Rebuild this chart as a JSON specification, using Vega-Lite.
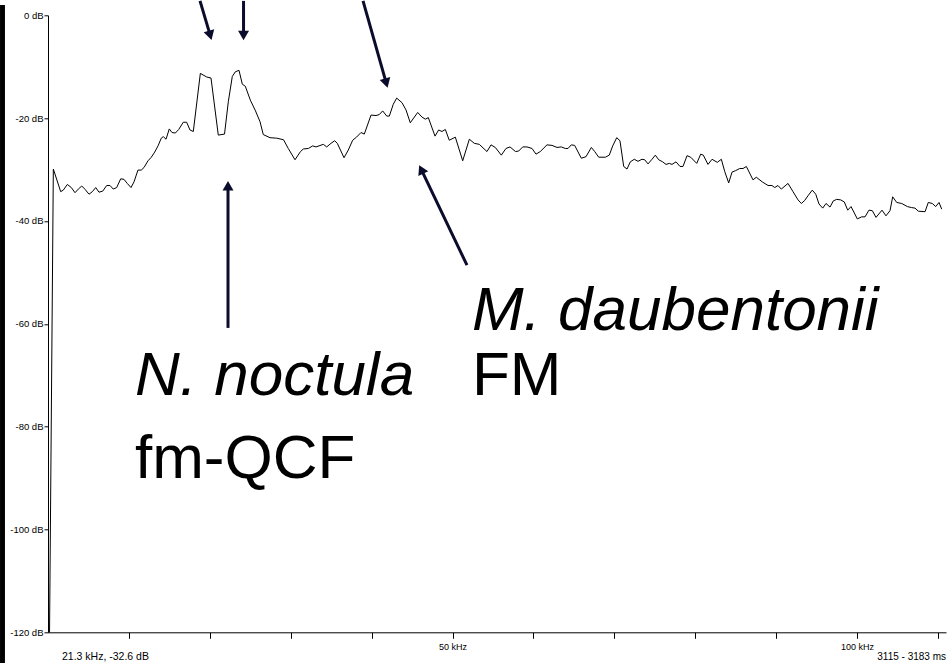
{
  "$schema": "https://vega.github.io/schema/vega-lite/v6.json",
  "autosize": {"type": "none"},
  "padding": {"left": 48, "top": 15.3, "right": 2, "bottom": 30.7},
  "width": 898,
  "height": 617,
  "background": "white",
  "config": {
    "view": {"stroke": null},
    "axis": {"labelFont": "Liberation Sans", "labelColor": "#000", "domainColor": "#000", "tickColor": "#000", "grid": false}
  },
  "datasets": {
    "spectrum": [
      {"khz":0.19,"db":-120},{"khz":0.66,"db":-29.9},{"khz":1.57,"db":-34.3},{"khz":1.89,"db":-34.0},{"khz":2.39,"db":-32.9},{"khz":2.88,"db":-33.5},{"khz":3.34,"db":-34.5},{"khz":3.75,"db":-33.8},{"khz":4.17,"db":-33.2},{"khz":4.61,"db":-33.9},{"khz":5.07,"db":-34.8},{"khz":5.48,"db":-34.3},{"khz":5.90,"db":-33.5},{"khz":6.30,"db":-34.4},{"khz":6.76,"db":-34.2},{"khz":7.26,"db":-33.1},{"khz":7.66,"db":-33.1},{"khz":8.07,"db":-33.8},{"khz":8.49,"db":-33.5},{"khz":8.99,"db":-31.8},{"khz":9.39,"db":-31.9},{"khz":9.80,"db":-32.7},{"khz":10.26,"db":-33.5},{"khz":10.63,"db":-32.4},{"khz":11.12,"db":-30.1},{"khz":11.53,"db":-30.1},{"khz":11.87,"db":-29.6},{"khz":12.36,"db":-28.3},{"khz":12.77,"db":-27.6},{"khz":13.19,"db":-26.6},{"khz":13.60,"db":-25.4},{"khz":14.00,"db":-23.9},{"khz":14.25,"db":-23.6},{"khz":14.59,"db":-24.1},{"khz":14.99,"db":-22.1},{"khz":15.33,"db":-22.8},{"khz":15.74,"db":-22.9},{"khz":16.16,"db":-22.2},{"khz":16.72,"db":-20.8},{"khz":17.14,"db":-20.8},{"khz":17.55,"db":-22.3},{"khz":17.96,"db":-22.6},{"khz":18.83,"db":-11.3},{"khz":19.62,"db":-12.0},{"khz":20.15,"db":-12.2},{"khz":21.05,"db":-23.3},{"khz":21.82,"db":-23.1},{"khz":22.29,"db":-16.8},{"khz":22.78,"db":-11.9},{"khz":23.15,"db":-11.0},{"khz":23.61,"db":-10.7},{"khz":24.02,"db":-13.4},{"khz":24.39,"db":-13.8},{"khz":25.01,"db":-16.5},{"khz":25.65,"db":-18.6},{"khz":26.21,"db":-20.7},{"khz":26.61,"db":-23.2},{"khz":27.44,"db":-23.8},{"khz":28.27,"db":-23.9},{"khz":29.11,"db":-24.2},{"khz":29.70,"db":-25.9},{"khz":30.53,"db":-28.1},{"khz":31.21,"db":-26.5},{"khz":31.56,"db":-26.0},{"khz":32.18,"db":-25.9},{"khz":32.72,"db":-25.4},{"khz":33.13,"db":-25.6},{"khz":34.03,"db":-25.1},{"khz":34.45,"db":-25.6},{"khz":34.98,"db":-24.9},{"khz":35.44,"db":-24.4},{"khz":35.76,"db":-24.9},{"khz":36.59,"db":-27.7},{"khz":37.12,"db":-26.2},{"khz":37.66,"db":-24.3},{"khz":38.13,"db":-23.7},{"khz":38.69,"db":-22.8},{"khz":39.10,"db":-23.1},{"khz":39.93,"db":-19.4},{"khz":40.54,"db":-19.5},{"khz":40.95,"db":-19.3},{"khz":41.37,"db":-18.6},{"khz":41.87,"db":-19.6},{"khz":42.19,"db":-19.6},{"khz":42.68,"db":-17.3},{"khz":43.10,"db":-16.1},{"khz":43.76,"db":-17.0},{"khz":44.25,"db":-18.4},{"khz":44.78,"db":-20.9},{"khz":45.70,"db":-18.9},{"khz":46.23,"db":-19.8},{"khz":46.64,"db":-20.2},{"khz":47.01,"db":-19.9},{"khz":47.84,"db":-23.5},{"khz":48.29,"db":-22.3},{"khz":48.70,"db":-22.6},{"khz":49.11,"db":-22.2},{"khz":49.60,"db":-24.3},{"khz":50.35,"db":-23.7},{"khz":51.26,"db":-28.3},{"khz":52.08,"db":-24.1},{"khz":52.69,"db":-24.9},{"khz":53.31,"db":-25.1},{"khz":54.26,"db":-26.5},{"khz":54.76,"db":-25.2},{"khz":55.29,"db":-25.7},{"khz":56.03,"db":-27.2},{"khz":56.61,"db":-25.9},{"khz":57.11,"db":-25.6},{"khz":57.79,"db":-26.5},{"khz":58.18,"db":-26.4},{"khz":58.68,"db":-25.6},{"khz":59.21,"db":-25.6},{"khz":59.83,"db":-25.9},{"khz":60.32,"db":-27.0},{"khz":60.85,"db":-26.5},{"khz":61.68,"db":-25.2},{"khz":62.30,"db":-25.3},{"khz":62.92,"db":-25.7},{"khz":63.45,"db":-25.6},{"khz":63.94,"db":-25.9},{"khz":64.28,"db":-25.9},{"khz":64.68,"db":-25.2},{"khz":65.10,"db":-25.3},{"khz":65.92,"db":-27.8},{"khz":66.50,"db":-27.5},{"khz":67.16,"db":-25.7},{"khz":67.58,"db":-26.5},{"khz":68.07,"db":-27.6},{"khz":68.89,"db":-27.6},{"khz":69.38,"db":-27.2},{"khz":69.80,"db":-25.4},{"khz":70.30,"db":-23.8},{"khz":70.70,"db":-24.4},{"khz":71.16,"db":-29.4},{"khz":71.57,"db":-29.9},{"khz":71.98,"db":-28.5},{"khz":72.47,"db":-28.0},{"khz":72.93,"db":-28.4},{"khz":73.42,"db":-28.0},{"khz":73.76,"db":-28.1},{"khz":74.17,"db":-28.9},{"khz":74.66,"db":-28.0},{"khz":75.07,"db":-27.2},{"khz":75.49,"db":-28.1},{"khz":75.98,"db":-28.5},{"khz":76.39,"db":-29.0},{"khz":76.80,"db":-28.8},{"khz":77.13,"db":-29.0},{"khz":77.63,"db":-28.5},{"khz":78.12,"db":-29.4},{"khz":78.49,"db":-29.4},{"khz":78.99,"db":-27.3},{"khz":79.44,"db":-27.6},{"khz":80.19,"db":-28.8},{"khz":80.68,"db":-27.0},{"khz":81.00,"db":-27.2},{"khz":81.58,"db":-29.0},{"khz":82.08,"db":-28.0},{"khz":82.73,"db":-28.6},{"khz":83.23,"db":-28.0},{"khz":83.65,"db":-30.4},{"khz":84.14,"db":-32.6},{"khz":84.55,"db":-30.5},{"khz":85.01,"db":-30.2},{"khz":85.50,"db":-29.8},{"khz":85.91,"db":-29.8},{"khz":86.32,"db":-29.4},{"khz":87.14,"db":-32.0},{"khz":87.55,"db":-31.5},{"khz":88.29,"db":-32.4},{"khz":89.00,"db":-33.1},{"khz":89.49,"db":-33.1},{"khz":89.83,"db":-33.5},{"khz":90.23,"db":-33.1},{"khz":90.64,"db":-33.8},{"khz":91.47,"db":-32.7},{"khz":92.09,"db":-34.3},{"khz":92.71,"db":-35.9},{"khz":93.12,"db":-36.6},{"khz":93.54,"db":-36.0},{"khz":93.94,"db":-35.1},{"khz":94.47,"db":-34.0},{"khz":94.90,"db":-34.8},{"khz":95.30,"db":-36.7},{"khz":95.76,"db":-37.5},{"khz":96.17,"db":-36.6},{"khz":96.66,"db":-37.3},{"khz":97.07,"db":-36.1},{"khz":97.49,"db":-35.8},{"khz":97.98,"db":-35.9},{"khz":98.43,"db":-36.3},{"khz":98.85,"db":-37.9},{"khz":99.26,"db":-37.2},{"khz":100.04,"db":-39.6},{"khz":100.58,"db":-39.2},{"khz":100.99,"db":-39.2},{"khz":101.48,"db":-37.9},{"khz":101.89,"db":-38.0},{"khz":102.35,"db":-39.3},{"khz":103.09,"db":-37.9},{"khz":103.58,"db":-39.0},{"khz":104.08,"db":-38.0},{"khz":104.41,"db":-35.3},{"khz":104.91,"db":-36.4},{"khz":105.53,"db":-36.6},{"khz":106.22,"db":-37.2},{"khz":106.76,"db":-37.4},{"khz":107.17,"db":-37.5},{"khz":107.58,"db":-38.1},{"khz":108.41,"db":-38.2},{"khz":108.81,"db":-36.4},{"khz":109.31,"db":-36.6},{"khz":109.73,"db":-37.2},{"khz":110.14,"db":-36.4},{"khz":110.47,"db":-37.7}
    ],
    "arrows": [
      {"x0": 18.79, "y0": 2.8, "hx": 20.0, "hy": -3.6, "angle": 164},
      {"x0": 24.17, "y0": 2.8, "hx": 24.17, "hy": -3.6, "angle": 180},
      {"x0": 38.94, "y0": 2.8, "hx": 41.76, "hy": -12.9, "angle": 164.4},
      {"x0": 22.25, "y0": -60.8, "hx": 22.25, "hy": -33.45, "angle": 0},
      {"x0": 51.79, "y0": -48.6, "hx": 46.22, "hy": -30.26, "angle": 334.4}
    ],
    "species": [
      {"khz": 10.75, "db": -73.8, "text": "N. noctula"},
      {"khz": 52.4, "db": -61.2, "text": "M. daubentonii"}
    ],
    "calltype": [
      {"khz": 10.75, "db": -90.0, "text": "fm-QCF"},
      {"khz": 52.4, "db": -73.8, "text": "FM"}
    ],
    "cursor": [
      {"khz": 1.73, "db": -124.8, "text": "21.3 kHz, -32.6 dB"}
    ],
    "timespan": [
      {"khz": 111.0, "db": -124.8, "text": "3115 - 3183 ms"}
    ],
    "bar": [
      {"xa": -5.93, "xb": -5.32, "ya": 2.0, "yb": -126}
    ]
  },
  "layer": [
    {
      "data": {"name": "bar"},
      "mark": {"type": "rect", "color": "#000"},
      "encoding": {
        "x": {"field": "xa", "type": "quantitative", "axis": {"title": null}},
        "x2": {"field": "xb"},
        "y": {"field": "ya", "type": "quantitative", "axis": {"title": null}},
        "y2": {"field": "yb"}
      }
    },
    {
      "data": {"name": "spectrum"},
      "mark": {"type": "line", "color": "#000", "strokeWidth": 1},
      "encoding": {
        "x": {
          "field": "khz", "type": "quantitative",
          "scale": {"domain": [0, 111], "nice": false, "zero": false},
          "axis": {
            "title": null, "values": [10, 20, 30, 40, 50, 60, 70, 80, 90, 100, 110],
            "labelExpr": "datum.value == 50 || datum.value == 100 ? datum.value + ' kHz' : ''",
            "tickSize": 6, "labelPadding": 4, "labelFontSize": 9, "domainWidth": 1, "labelFlush": false, "labelOverlap": false
          }
        },
        "y": {
          "field": "db", "type": "quantitative",
          "scale": {"domain": [-120, 0], "nice": false, "zero": false},
          "axis": {
            "title": null, "values": [0, -20, -40, -60, -80, -100, -120],
            "labelExpr": "datum.value + ' dB'",
            "tickSize": 4, "labelPadding": 1, "labelFontSize": 9.5, "domainWidth": 1, "labelFlush": false, "labelOverlap": false
          }
        }
      }
    },
    {
      "data": {"name": "arrows"},
      "mark": {"type": "rule", "color": "#0b0b2b", "strokeWidth": 3},
      "encoding": {
        "x": {"field": "x0", "type": "quantitative", "axis": {"title": null}},
        "y": {"field": "y0", "type": "quantitative", "axis": {"title": null}},
        "x2": {"field": "hx"},
        "y2": {"field": "hy"}
      }
    },
    {
      "data": {"name": "arrows"},
      "mark": {"type": "point", "shape": "triangle", "filled": true, "color": "#0b0b2b", "size": 120, "opacity": 1},
      "encoding": {
        "x": {"field": "hx", "type": "quantitative", "axis": {"title": null}},
        "y": {"field": "hy", "type": "quantitative", "axis": {"title": null}},
        "angle": {"field": "angle", "type": "quantitative", "scale": null}
      }
    },
    {
      "data": {"name": "species"},
      "mark": {"type": "text", "font": "Liberation Sans", "fontSize": 62, "fontStyle": "italic", "align": "left", "baseline": "alphabetic", "color": "#000"},
      "encoding": {
        "x": {"field": "khz", "type": "quantitative", "axis": {"title": null}},
        "y": {"field": "db", "type": "quantitative", "axis": {"title": null}},
        "text": {"field": "text"}
      }
    },
    {
      "data": {"name": "calltype"},
      "mark": {"type": "text", "font": "Liberation Sans", "fontSize": 62, "align": "left", "baseline": "alphabetic", "color": "#000"},
      "encoding": {
        "x": {"field": "khz", "type": "quantitative", "axis": {"title": null}},
        "y": {"field": "db", "type": "quantitative", "axis": {"title": null}},
        "text": {"field": "text"}
      }
    },
    {
      "data": {"name": "cursor"},
      "mark": {"type": "text", "font": "Liberation Sans", "fontSize": 10.5, "align": "left", "baseline": "middle", "color": "#000"},
      "encoding": {
        "x": {"field": "khz", "type": "quantitative", "axis": {"title": null}},
        "y": {"field": "db", "type": "quantitative", "axis": {"title": null}},
        "text": {"field": "text"}
      }
    },
    {
      "data": {"name": "timespan"},
      "mark": {"type": "text", "font": "Liberation Sans", "fontSize": 10, "align": "right", "baseline": "middle", "color": "#000"},
      "encoding": {
        "x": {"field": "khz", "type": "quantitative", "axis": {"title": null}},
        "y": {"field": "db", "type": "quantitative", "axis": {"title": null}},
        "text": {"field": "text"}
      }
    }
  ]
}
